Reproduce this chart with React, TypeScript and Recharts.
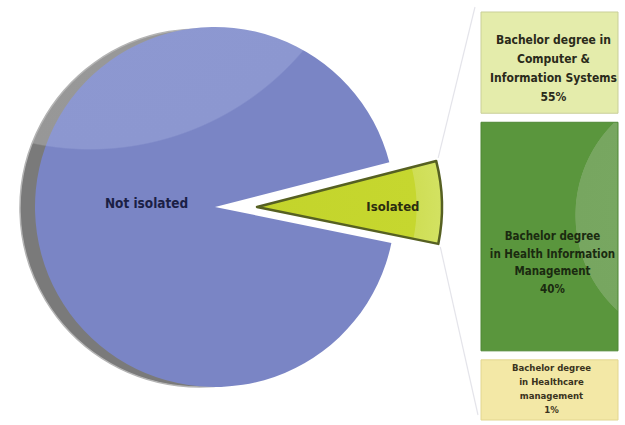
import React from "react";
import { PieChart, Pie, Cell, BarChart, Bar, XAxis, YAxis, LabelList } from "recharts";

// ---- data ----
const pieCategories = ["Isolated", "Not isolated"];
const pieValues = [7.2, 92.8];

// bar segments, bottom to top
const barCategories = [
  "Bachelor degree in Healthcare management",
  "Bachelor degree in Health Information Management",
  "Bachelor degree in Computer & Information Systems",
];
const barShares = ["1%", "40%", "55%"];
const barLabelLines = [
  ["Bachelor degree", "in Healthcare", "management"],
  ["Bachelor degree", "in Health Information", "Management"],
  ["Bachelor degree in", "Computer &", "Information Systems"],
];
const barBoxSizes = [60, 228, 101];
const barGap = 9;

// ---- styling / layout ----
const FONT = "'Liberation Sans Narrow', 'Arial Narrow', 'DejaVu Sans Condensed', sans-serif";
const RAD = Math.PI / 180;
const PIE = { cx: 215, cy: 207, r: 180, explode: 42, rExp: 185, start: -11.5 };
const BAR = { left: 470, width: 155, height: 425, margin: { top: 12, right: 7, bottom: 5, left: 11 } };

const segStyles = [
  { fill: "#f3e8a6", stroke: "#e2d690", color: "#3a3320", fontSize: 9.5, lineH: 14, dx: 2, dy: -1 },
  { fill: "url(#greenGloss)", stroke: "#4e8634", color: "#1a2a10", fontSize: 11.5, lineH: 17.5, dx: 3, dy: 26 },
  { fill: "#e4ecab", stroke: "#c9cf98", color: "#2a2a1a", fontSize: 12, lineH: 19, dx: 4, dy: 6 },
];

const pieData = pieCategories.map((name, i) => ({ name, value: pieValues[i] }));

const barRow: Record<string, any> = { name: "Isolated" };
barBoxSizes.forEach((v, i) => {
  barRow["s" + i] = v;
  if (i < barBoxSizes.length - 1) barRow["g" + i] = barGap;
});
const barData = [barRow];
const barTotal = barBoxSizes.reduce((a, b) => a + b, 0) + barGap * (barBoxSizes.length - 1);

const nameOf = (p: any) => (p && p.payload && p.payload.name) || p.name;

const mainLabel = (p: any) => {
  if (nameOf(p) !== "Not isolated") return null;
  const r = p.outerRadius * 0.38;
  const x = p.cx + r * Math.cos(-p.midAngle * RAD);
  const y = p.cy + r * Math.sin(-p.midAngle * RAD) - 6;
  return (
    <text x={x} y={y} textAnchor="middle" dominantBaseline="central" fill="#1b1f45"
      fontFamily={FONT} fontWeight="bold" fontSize={13.5}>
      Not isolated
    </text>
  );
};

const isoLabel = (p: any) => {
  if (nameOf(p) !== "Isolated") return null;
  const r = p.outerRadius * 0.735;
  const x = p.cx + r * Math.cos(-p.midAngle * RAD);
  const y = p.cy + r * Math.sin(-p.midAngle * RAD) + 3;
  return (
    <text x={x} y={y} textAnchor="middle" dominantBaseline="central" fill="#2b2c10"
      fontFamily={FONT} fontWeight="bold" fontSize={13}>
      Isolated
    </text>
  );
};

const segLabel = (i: number) => (p: any) => {
  const st = segStyles[i];
  const lines = [...barLabelLines[i], barShares[i]];
  const cx = p.x + p.width / 2 + st.dx;
  const cy = p.y + p.height / 2 + st.dy;
  const y0 = cy - ((lines.length - 1) * st.lineH) / 2;
  return (
    <g>
      {lines.map((t, k) => (
        <text key={k} x={cx} y={y0 + k * st.lineH} textAnchor="middle" dominantBaseline="central"
          fill={st.color} fontFamily={FONT} fontWeight="bold" fontSize={st.fontSize}>
          {t}
        </text>
      ))}
    </g>
  );
};

export default function App() {
  const isoStartA = PIE.start;
  const isoEndA = PIE.start + (pieValues[0] / 100) * 360;
  const ex = PIE.cx + PIE.explode;
  const topCorner = { x: ex + PIE.rExp * Math.cos(isoEndA * RAD), y: PIE.cy - PIE.rExp * Math.sin(isoEndA * RAD) };
  const botCorner = { x: ex + PIE.rExp * Math.cos(isoStartA * RAD), y: PIE.cy - PIE.rExp * Math.sin(isoStartA * RAD) };
  const barLeftX = BAR.left + BAR.margin.left;
  const barTopY = BAR.margin.top;
  const barBotY = BAR.height - BAR.margin.bottom;

  return (
    <div style={{ position: "absolute", left: 0, top: 0, width: 625, height: 425, background: "#fff" }}>
      <div style={{ position: "absolute", left: 0, top: 0 }}>
        <PieChart width={470} height={425} margin={{ top: 0, right: 0, bottom: 0, left: 0 }}>
          <defs>
            <radialGradient id="blueGloss" gradientUnits="userSpaceOnUse" cx={90} cy={-130} r={280}>
              <stop offset="0" stopColor="#8e99d2" />
              <stop offset="0.995" stopColor="#8c97d0" />
              <stop offset="1" stopColor="#7a85c5" />
            </radialGradient>
            <radialGradient id="greyRim" gradientUnits="userSpaceOnUse" cx={90} cy={-130} r={280}>
              <stop offset="0" stopColor="#9a9a9a" />
              <stop offset="0.995" stopColor="#979797" />
              <stop offset="1" stopColor="#7a7a7a" />
            </radialGradient>
            <radialGradient id="limeGloss" gradientUnits="userSpaceOnUse" cx={ex} cy={PIE.cy} r={PIE.rExp}>
              <stop offset="0" stopColor="#c3d42b" />
              <stop offset="0.86" stopColor="#c6d72f" />
              <stop offset="0.865" stopColor="#cfde55" />
              <stop offset="1" stopColor="#d3e262" />
            </radialGradient>
          </defs>
          <Pie data={pieData} dataKey="value" nameKey="name" cx={PIE.cx - 16} cy={PIE.cy + 1} outerRadius={PIE.r - 1}
            startAngle={PIE.start} endAngle={PIE.start + 360} isAnimationActive={false} stroke="none" label={false}>
            {pieData.map((d) => (
              <Cell key={d.name} fill={d.name === "Not isolated" ? "url(#greyRim)" : "transparent"}
                stroke={d.name === "Not isolated" ? "#b4b4b4" : "none"} strokeWidth={1.5} />
            ))}
          </Pie>
          <Pie data={pieData} dataKey="value" nameKey="name" cx={PIE.cx} cy={PIE.cy} outerRadius={PIE.r}
            startAngle={PIE.start} endAngle={PIE.start + 360} isAnimationActive={false} stroke="none"
            labelLine={false} label={mainLabel}>
            {pieData.map((d) => (
              <Cell key={d.name} fill={d.name === "Not isolated" ? "url(#blueGloss)" : "transparent"} stroke="none" />
            ))}
          </Pie>
          <Pie data={pieData} dataKey="value" nameKey="name" cx={ex} cy={PIE.cy} outerRadius={PIE.rExp}
            startAngle={PIE.start} endAngle={PIE.start + 360} isAnimationActive={false} stroke="none"
            labelLine={false} label={isoLabel}>
            {pieData.map((d) => (
              <Cell key={d.name} fill={d.name === "Isolated" ? "url(#limeGloss)" : "transparent"}
                stroke={d.name === "Isolated" ? "#566022" : "none"} strokeWidth={2.5} strokeLinejoin="round" />
            ))}
          </Pie>
        </PieChart>
      </div>
      <div style={{ position: "absolute", left: BAR.left, top: 0 }}>
        <BarChart width={BAR.width} height={BAR.height} data={barData} margin={BAR.margin}
          barCategoryGap={0} barGap={0}>
          <defs>
            <radialGradient id="greenGloss" gradientUnits="userSpaceOnUse" cx={235} cy={215} r={130}>
              <stop offset="0" stopColor="#7aa963" />
              <stop offset="0.995" stopColor="#77a660" />
              <stop offset="1" stopColor="#5a963d" />
            </radialGradient>
          </defs>
          <XAxis dataKey="name" hide />
          <YAxis hide domain={[0, barTotal]} />
          {barBoxSizes.map((_, i) => [
            <Bar key={"s" + i} dataKey={"s" + i} stackId="a" fill={segStyles[i].fill}
              stroke={segStyles[i].stroke} strokeWidth={1} isAnimationActive={false} name={barCategories[i]}>
              <LabelList dataKey={"s" + i} content={segLabel(i)} />
            </Bar>,
            i < barBoxSizes.length - 1 ? (
              <Bar key={"g" + i} dataKey={"g" + i} stackId="a" fill="transparent" isAnimationActive={false} />
            ) : null,
          ])}
        </BarChart>
      </div>
      <svg width={625} height={425} style={{ position: "absolute", left: 0, top: 0, pointerEvents: "none" }}>
        <line x1={topCorner.x + 2} y1={topCorner.y - 3} x2={barLeftX - 6} y2={barTopY - 5} stroke="#e4e4ea" strokeWidth={1.2} />
        <line x1={botCorner.x + 2} y1={botCorner.y + 3} x2={barLeftX - 3} y2={barBotY - 5} stroke="#e4e4ea" strokeWidth={1.2} />
      </svg>
    </div>
  );
}
